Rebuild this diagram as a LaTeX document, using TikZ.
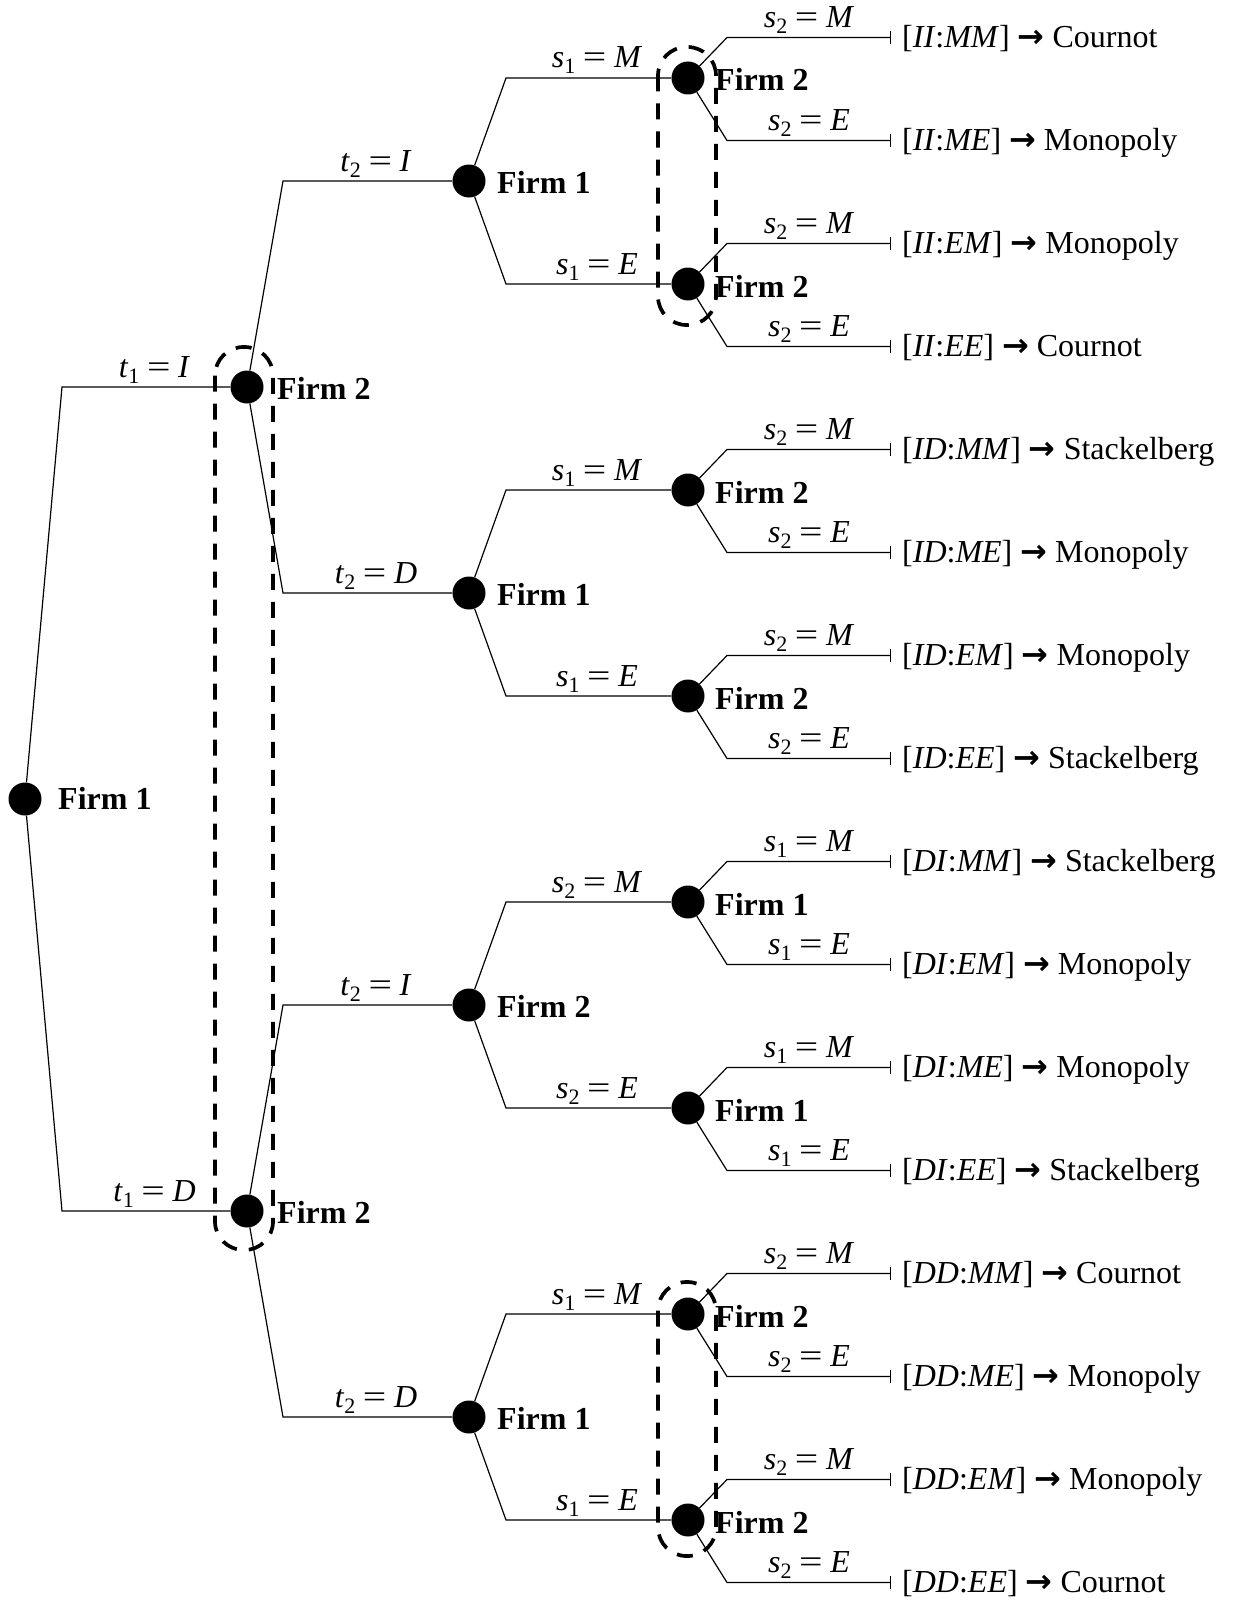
\documentclass[tikz,border=0pt]{standalone}
\usepackage{fontspec}
\usepackage{graphicx}
\setmainfont{Liberation Serif}
\newfontfamily\arrowfont{DejaVu Sans}
\usetikzlibrary{arrows.meta}
\newcommand{\subx}[1]{\raisebox{-6pt}{\fontsize{22}{22}\selectfont #1}}
\newcommand{\lab}[3]{\textit{#1}\subx{#2}\hspace{0.24em}\scalebox{1.3}[1]{=}\hspace{0.24em}\textit{#3}}
\newcommand{\term}[3]{[\textit{#1}:\textit{#2}]~{\arrowfont\bfseries →}~#3}
\begin{document}
\begin{tikzpicture}[x=1pt,y=-1pt,
  dot/.style={circle, fill=black, inner sep=0pt, minimum size=33pt},
  edge/.style={line width=1.2pt, black},
  lab/.style={midway, anchor=base, inner sep=0pt, yshift=10pt, font=\fontsize{32}{38}\selectfont},
  firm/.style={anchor=base west, inner sep=0pt, font=\fontsize{32}{38}\selectfont\bfseries},
  term/.style={anchor=base west, inner sep=0pt, font=\fontsize{32}{38}\selectfont},
  info/.style={line width=3.7pt, dash pattern=on 16pt off 12pt, rounded corners=28.5pt},
  tick/.style={-{Bar[width=13pt]}}
]
\useasboundingbox (0,0) rectangle (1233,1600);

% decision nodes
\node[dot] (R) at (25,799) {};
\node[dot] (A1) at (247,387) {};
\node[dot] (A2) at (247,1211) {};
\node[dot] (B1) at (469,181) {};
\node[dot] (B2) at (469,593) {};
\node[dot] (B3) at (469,1005) {};
\node[dot] (B4) at (469,1417) {};
\foreach \i/\y in {1/78,2/284,3/490,4/696,5/902,6/1108,7/1314,8/1520}{
  \node[dot] (C\i) at (688,\y) {};
  \coordinate (cC\i) at (506,\y);
}

% player labels
\node[firm] (lR) at ([shift={(33,10)}]R.center) {Firm 1};
\node[firm] (lA1) at ([shift={(30,12)}]A1.center) {Firm 2};
\node[firm] (lA2) at ([shift={(30,12)}]A2.center) {Firm 2};
\node[firm] (lB1) at ([shift={(28,12)}]B1.center) {Firm 1};
\node[firm] (lB2) at ([shift={(28,12)}]B2.center) {Firm 1};
\node[firm] (lB3) at ([shift={(28,12)}]B3.center) {Firm 2};
\node[firm] (lB4) at ([shift={(28,12)}]B4.center) {Firm 1};
\foreach \i/\f in {1/2,2/2,3/2,4/2,5/1,6/1,7/2,8/2}{
  \node[firm] (lC\i) at ([shift={(27,13)}]C\i.center) {Firm \f};
}

% corners
\coordinate (cA1) at (62,387);
\coordinate (cA2) at (62,1211);
\coordinate (cB1) at (283,181);
\coordinate (cB2) at (283,593);
\coordinate (cB3) at (283,1005);
\coordinate (cB4) at (283,1417);

% terminals
\foreach \k/\y/\a/\b/\r in {0/37.5/II/MM/Cournot, 1/140.5/II/ME/Monopoly, 2/243.5/II/EM/Monopoly, 3/346.5/II/EE/Cournot,
  4/449.5/ID/MM/Stackelberg, 5/552.5/ID/ME/Monopoly, 6/655.5/ID/EM/Monopoly, 7/758.5/ID/EE/Stackelberg,
  8/861.5/DI/MM/Stackelberg, 9/964.5/DI/EM/Monopoly, 10/1067.5/DI/ME/Monopoly, 11/1170.5/DI/EE/Stackelberg,
  12/1273.5/DD/MM/Cournot, 13/1376.5/DD/ME/Monopoly, 14/1479.5/DD/EM/Monopoly, 15/1582.5/DD/EE/Cournot}{
  \coordinate (cT\k) at (727,\y);
  \coordinate (eT\k) at (891,\y);
  \node[term] (tT\k) at (902,\y+10) {\term{\a}{\b}{\r}};
}

% root branches
\draw[edge] (R) -- (cA1) -- (A1);
\path (cA1) -- (A1.center) node[lab] {\lab{t}{1}{I}};
\draw[edge] (R) -- (cA2) -- (A2);
\path (cA2) -- (A2.center) node[lab] {\lab{t}{1}{D}};

% second stage
\draw[edge] (A1) -- (cB1) -- (B1);
\path (cB1) -- (B1.center) node[lab] {\lab{t}{2}{I}};
\draw[edge] (A1) -- (cB2) -- (B2);
\path (cB2) -- (B2.center) node[lab] {\lab{t}{2}{D}};
\draw[edge] (A2) -- (cB3) -- (B3);
\path (cB3) -- (B3.center) node[lab] {\lab{t}{2}{I}};
\draw[edge] (A2) -- (cB4) -- (B4);
\path (cB4) -- (B4.center) node[lab] {\lab{t}{2}{D}};

% third stage
\foreach \b/\u/\d/\p in {1/1/2/1, 2/3/4/1, 3/5/6/2, 4/7/8/1}{
  \draw[edge] (B\b) -- (cC\u) -- (C\u);
  \path (cC\u) -- (C\u.center) node[lab] {\lab{s}{\p}{M}};
  \draw[edge] (B\b) -- (cC\d) -- (C\d);
  \path (cC\d) -- (C\d.center) node[lab] {\lab{s}{\p}{E}};
}

% final stage
\foreach \c/\u/\d/\p in {1/0/1/2, 2/2/3/2, 3/4/5/2, 4/6/7/2, 5/8/9/1, 6/10/11/1, 7/12/13/2, 8/14/15/2}{
  \draw[edge,tick] (C\c) -- (cT\u) -- (eT\u);
  \path (cT\u) -- (eT\u) node[lab] {\lab{s}{\p}{M}};
  \draw[edge,tick] (C\c) -- (cT\d) -- (eT\d);
  \path (cT\d) -- (eT\d) node[lab] {\lab{s}{\p}{E}};
}

% information sets
\draw[info] (215,347) rectangle (273,1250);
\draw[info] (658,47) rectangle (716,325);
\draw[info] (658,1282) rectangle (716,1556);
\end{tikzpicture}
\end{document}
